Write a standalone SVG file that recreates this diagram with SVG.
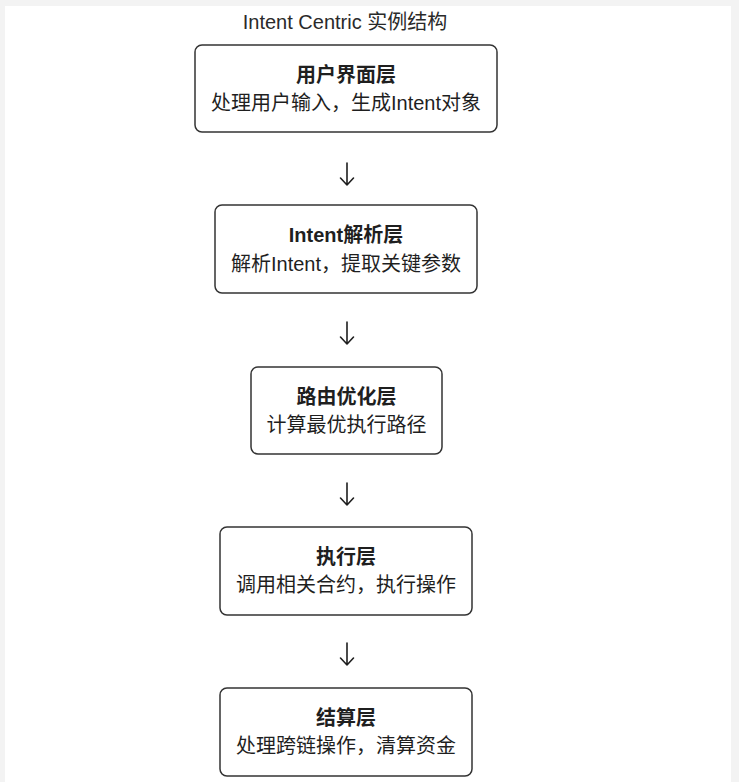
<svg xmlns="http://www.w3.org/2000/svg" width="739" height="782" viewBox="0 0 739 782">
<style>
.bg{fill:#f3f3f3}
.page{fill:#ffffff}
.box{fill:#ffffff;stroke:#333333;stroke-width:1.5}
.t{font-family:"Liberation Sans","Noto Sans CJK SC",sans-serif;fill:#1f1f1f;text-anchor:middle}
.title{font-size:20px;font-weight:400;fill:#2a2a2a}
.h{font-size:20px;font-weight:700}
.s{font-size:20px;font-weight:400}
.arr{fill:none;stroke:#1f1f1f;stroke-width:1.6;stroke-linecap:round;stroke-linejoin:round}
</style>
<rect class="bg" x="0" y="0" width="739" height="782"/>
<rect class="page" x="5" y="6" width="726" height="776"/>
<text class="t title" x="345" y="29">Intent Centric 实例结构</text>
<g id="node-ui">
<rect class="box" x="195" y="45" width="302" height="87" rx="7"/>
<text class="t h" x="346" y="82">用户界面层</text>
<text class="t s" x="346" y="110">处理用户输入，生成Intent对象</text>
</g>
<g id="node-parse">
<rect class="box" x="215" y="205" width="262" height="88" rx="7"/>
<text class="t h" x="346" y="242">Intent解析层</text>
<text class="t s" x="346" y="271">解析Intent，提取关键参数</text>
</g>
<g id="node-route">
<rect class="box" x="251" y="367" width="191" height="87" rx="7"/>
<text class="t h" x="346.5" y="404">路由优化层</text>
<text class="t s" x="346.5" y="432">计算最优执行路径</text>
</g>
<g id="node-exec">
<rect class="box" x="220" y="527" width="252" height="88" rx="7"/>
<text class="t h" x="346" y="564">执行层</text>
<text class="t s" x="346" y="592">调用相关合约，执行操作</text>
</g>
<g id="node-settle">
<rect class="box" x="220" y="688" width="252" height="88" rx="7"/>
<text class="t h" x="346" y="725">结算层</text>
<text class="t s" x="346" y="753">处理跨链操作，清算资金</text>
</g>
<g id="connectors">
<path class="arr" d="M347 163 V185 M340.5 178 L347 185 L353.5 178"/>
<path class="arr" d="M347 322 V344 M340.5 337 L347 344 L353.5 337"/>
<path class="arr" d="M347 483 V505 M340.5 498 L347 505 L353.5 498"/>
<path class="arr" d="M347 643 V665 M340.5 658 L347 665 L353.5 658"/>
</g>
</svg>
